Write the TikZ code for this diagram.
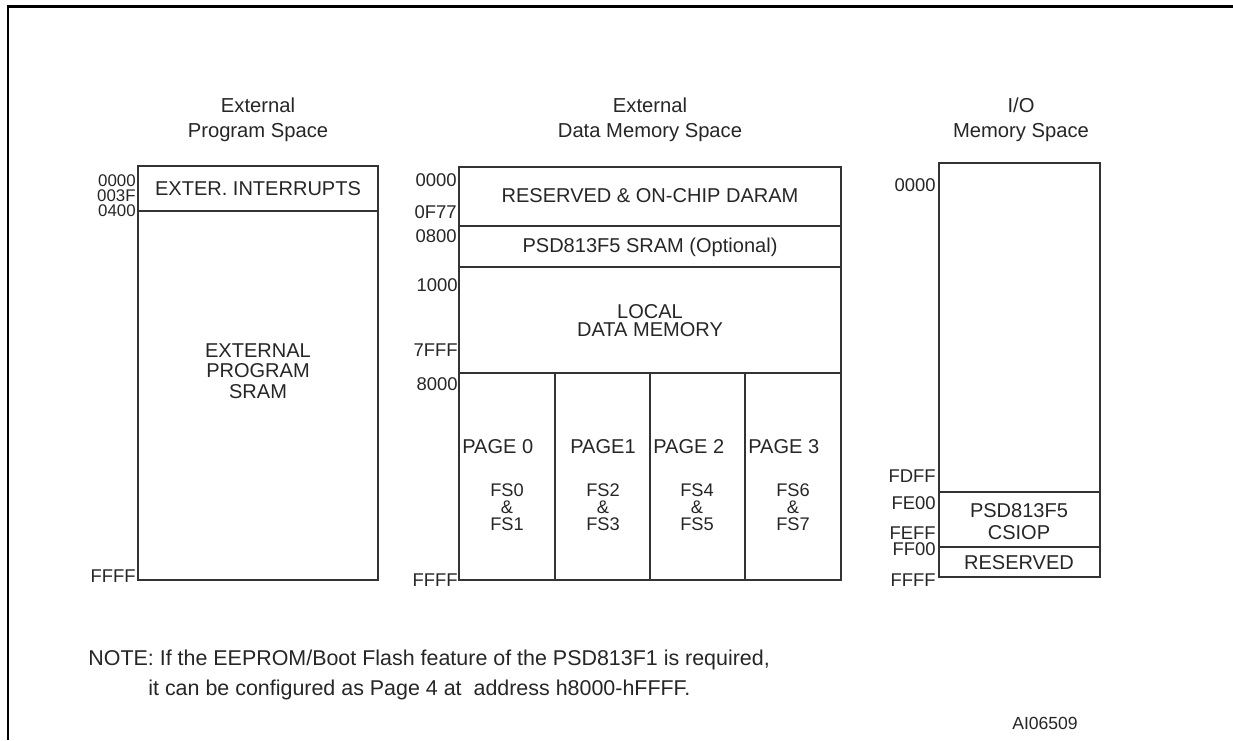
\documentclass[tikz,border=0pt]{standalone}
\usepackage{fontspec}
\setmainfont{Liberation Sans}
\usetikzlibrary{positioning}

\begin{document}
\begin{tikzpicture}[
  x=0.02cm, y=-0.02cm,
  region/.style={draw=black!80, line width=0.7pt},
  addr/.style={anchor=east, inner sep=0pt, text=black!85, font=\fontsize{10.5}{12}\selectfont},
  smalladdr/.style={addr, font=\fontsize{9.6}{11}\selectfont},
  cell/.style={align=center, inner sep=0pt, text=black!85, font=\fontsize{11.4}{10.5}\selectfont},
  fslabel/.style={cell, font=\fontsize{10.4}{12}\selectfont},
  heading/.style={align=center, inner sep=0pt, text=black!85, font=\fontsize{11.5}{14}\selectfont},
  note/.style={anchor=west, inner sep=0pt, text=black!85, font=\fontsize{12.2}{14}\selectfont}
]
\useasboundingbox (0,0) rectangle (1233,740);

% frame
\draw[line width=1.2pt] (8,740) -- (8,6.5) -- (1233,6.5);

% external program space
\node[heading] (progtitle) at (258,120) {External\\Program Space};
\draw[region] (138,166) rectangle (378,580);
\draw[region] (138,211) -- (378,211);
\node[cell] (extint) at (258,189) {EXTER. INTERRUPTS};
\node[cell, font=\fontsize{11.4}{11.5}\selectfont] (extsram) at (258,371) {EXTERNAL\\PROGRAM\\SRAM};
\node[smalladdr] (p0000) at (136,180.5) {0000};
\node[smalladdr] (p003F) at (136,195.5) {003F};
\node[smalladdr] (p0400) at (136,210.5) {0400};
\node[addr] (pFFFF) at (136,576) {FFFF};

% external data memory space
\node[heading] (datatitle) at (650,120) {External\\Data Memory Space};
\draw[region] (459,167) rectangle (841,580);
\draw[region] (459,226) -- (841,226);
\draw[region] (459,267) -- (841,267);
\draw[region] (459,373) -- (841,373);
\foreach \xcol in {555,650,745}
  \draw[region] (\xcol,373) -- (\xcol,580);
\node[cell] (daram) at (650,196) {RESERVED \& ON-CHIP DARAM};
\node[cell] (psdsram) at (650,247) {PSD813F5 SRAM (Optional)};
\node[cell] (local) at (650,312) {LOCAL};
\node[cell] (datamem) at (650,330) {DATA MEMORY};
\node[cell, anchor=west] (page0) at (462,447) {PAGE 0};
\node[cell] (page1) at (603,447) {PAGE1};
\node[cell, anchor=west] (page2) at (653,447) {PAGE 2};
\node[cell, anchor=west] (page3) at (748,447) {PAGE 3};
\foreach \xcol/\fa/\fb in {507/0/1, 603/2/3, 697/4/5, 793/6/7} {
  \node[fslabel] (fs\fa) at (\xcol,490) {FS\fa};
  \node[fslabel] (and\fa) at (\xcol,507) {\&};
  \node[fslabel] (fs\fb) at (\xcol,524) {FS\fb};
}
\node[addr] (d0000) at (457,180) {0000};
\node[addr] (d0F77) at (457,212) {0F77};
\node[addr] (d0800) at (457,236) {0800};
\node[addr] (d1000) at (458,285) {1000};
\node[addr] (d7FFF) at (458,350) {7FFF};
\node[addr] (d8000) at (458,384) {8000};
\node[addr] (dFFFF) at (458,580) {FFFF};

% i/o memory space
\node[heading] (iotitle) at (1021,120) {I/O\\Memory Space};
\draw[region] (939,163) rectangle (1100,577);
\draw[region] (939,492) -- (1100,492);
\draw[region] (939,547) -- (1100,547);
\node[cell] (psdcs) at (1019,511) {PSD813F5};
\node[cell] (csiop) at (1019,533) {CSIOP};
\node[cell] (ioresv) at (1019,563) {RESERVED};
\node[addr] (i0000) at (936,185) {0000};
\node[addr] (iFDFF) at (936,476) {FDFF};
\node[addr] (iFE00) at (936,503) {FE00};
\node[addr] (iFEFF) at (936,533) {FEFF};
\node[addr] (iFF00) at (936,549) {FF00};
\node[addr] (iFFFF) at (936,580) {FFFF};

% note
\node[note] (note1) at (88,660) {NOTE: If the EEPROM/Boot Flash feature of the PSD813F1 is required,};
\node[note] (note2) at (148,690) {it can be configured as Page 4 at\ \ address h8000-hFFFF.};
\node[inner sep=0pt, text=black!85, font=\fontsize{10}{12}\selectfont] (figid) at (1045,723) {AI06509};
\end{tikzpicture}
\end{document}
